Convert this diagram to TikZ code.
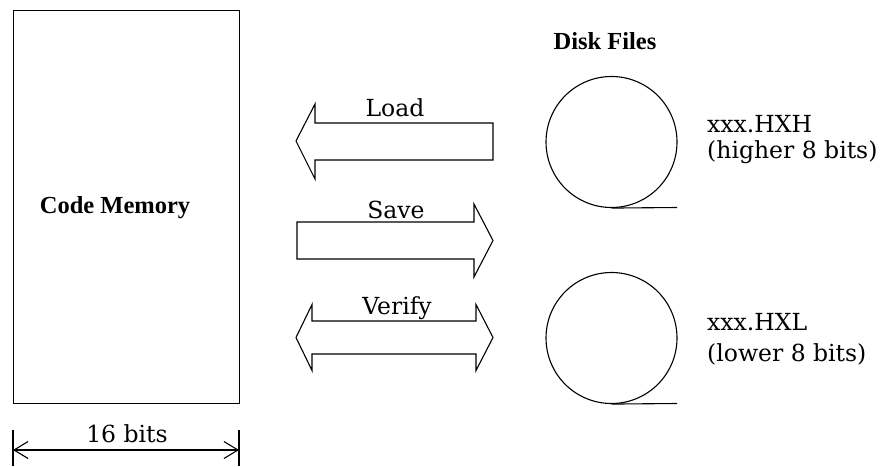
\documentclass[tikz,border=0pt]{standalone}
\usepackage{fontspec}
\setmainfont{DejaVu Serif}
\newfontfamily\boldserif{Liberation Serif}
\usetikzlibrary{arrows.meta}
\tikzset{
  shape line/.style={draw=black, line width=1.1pt, line join=miter},
  lbl/.style={inner sep=0pt, anchor=base, font=\fontsize{23.5}{26}\selectfont},
  rlbl/.style={inner sep=0pt, anchor=base west, font=\fontsize{23.5}{26}\selectfont},
  blbl/.style={inner sep=0pt, anchor=base, font=\boldserif\bfseries\fontsize{24.5}{27}\selectfont},
  dimline/.style={line width=1.1pt, {Straight Barb[length=14pt,width=17pt,line width=1.1pt]}-{Straight Barb[length=14pt,width=17pt,line width=1.1pt]}},
}
\begin{document}
\begin{tikzpicture}[x=1pt,y=-1pt]
\useasboundingbox (0,0) rectangle (882,466);
% code memory
\node[shape line, rectangle, minimum width=226pt, minimum height=393pt, inner sep=0pt, anchor=north west] (mem) at (13,10) {};
\node[blbl] (memlbl) at (115,213) {Code Memory};
% dimension
\coordinate (dl1) at (13,430); \coordinate (dl2) at (13,466);
\coordinate (dr1) at (239,430); \coordinate (dr2) at (239,466);
\draw[line width=1.1pt] (dl1) -- (dl2);
\draw[line width=1.1pt] (dr1) -- (dr2);
\coordinate (da) at (13,450); \coordinate (db) at (239,450);
\draw[dimline] (da) -- (db);
\node[lbl] (bits) at (127,442) {16 bits};
% Load arrow (left)
\draw[shape line] (296,141) -- (315,104) -- (315,123) -- (493,123) -- (493,160) -- (315,160) -- (315,179) -- cycle;
\node[lbl] (load) at (395,116) {Load};
% Save arrow (right)
\draw[shape line] (493,240.5) -- (474,204) -- (474,222) -- (297,222) -- (297,259) -- (474,259) -- (474,277) -- cycle;
\node[lbl] (save) at (396,218) {Save};
% Verify arrow (double)
\draw[shape line] (296,337.5) -- (312,304.5) -- (312,321) -- (476,321) -- (476,304.5) -- (493,337.5) -- (476,370.5) -- (476,354) -- (312,354) -- (312,370.5) -- cycle;
\node[lbl] (verify) at (397,314) {Verify};
% disks
\node[blbl] (disk) at (605,49) {Disk Files};
\node[shape line, circle, minimum size=131pt, inner sep=0pt] (d1) at (611.5,142) {};
\coordinate (t1) at (677,207.5);
\draw[line width=1.1pt] (d1.south) -- (t1);
\node[shape line, circle, minimum size=131pt, inner sep=0pt] (d2) at (611.5,338) {};
\coordinate (t2) at (677,403.5);
\draw[line width=1.1pt] (d2.south) -- (t2);
\node[rlbl] (f1a) at (707,132) {xxx.HXH};
\node[rlbl] (f1b) at (707,158) {(higher 8 bits)};
\node[rlbl] (f2a) at (707,330) {xxx.HXL};
\node[rlbl] (f2b) at (707,361) {(lower 8 bits)};
\end{tikzpicture}
\end{document}
